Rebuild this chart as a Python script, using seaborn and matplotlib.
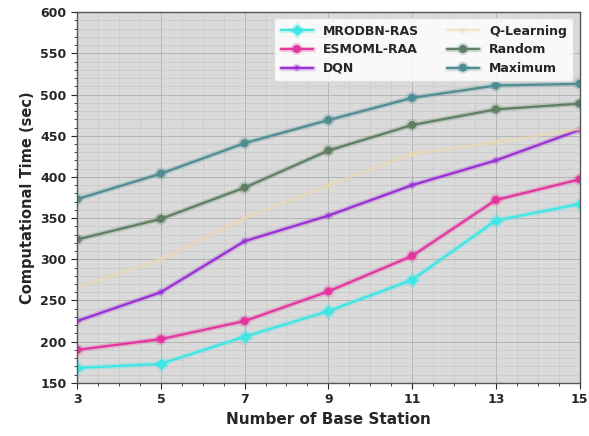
import numpy as np
import pandas as pd
import matplotlib
matplotlib.use("Agg")
import matplotlib.pyplot as plt
import matplotlib.patheffects as pe
from matplotlib.ticker import AutoMinorLocator
import seaborn as sns

base_stations = [3, 5, 7, 9, 11, 13, 15]
mrodbn_ras = [168, 173, 206, 237, 275, 347, 367]
esmoml_raa = [190, 203, 225, 261, 304, 372, 397]
dqn = [225, 260, 322, 353, 390, 420, 457]
q_learning = [265, 300, 350, 390, 428, 442, 458]
random_alloc = [324, 349, 387, 432, 463, 482, 489]
maximum = [373, 404, 441, 469, 496, 511, 513]

methods = ["MRODBN-RAS", "ESMOML-RAA", "DQN", "Q-Learning", "Random", "Maximum"]
series = [mrodbn_ras, esmoml_raa, dqn, q_learning, random_alloc, maximum]
colors = ["#3ee6e6", "#e3359f", "#9b2fd6", "#f2d9a6", "#5e7f62", "#4f8d92"]
markers = ["D", "o", ".", "+", "o", "o"]
alphas = [1.0, 1.0, 1.0, 0.5, 1.0, 1.0]

df = pd.DataFrame({
    "Number of Base Station": base_stations * len(methods),
    "Computational Time (sec)": sum(series, []),
    "Method": np.repeat(methods, len(base_stations)),
})

sns.set_style("whitegrid")
plt.rcParams["font.family"] = ["DejaVu Sans"]
plt.rcParams["font.weight"] = "bold"

fig, ax = plt.subplots(figsize=(5.89, 4.36), dpi=100)
ax.set_facecolor("#dadada")

for name, col, mk, a in zip(methods, colors, markers, alphas):
    sub = df[df["Method"] == name]
    sns.lineplot(data=sub, x="Number of Base Station", y="Computational Time (sec)",
                 color=col, marker=mk, markersize=5 if mk != "." else 4,
                 markeredgecolor=col, linewidth=1.6, alpha=a, label=name, ax=ax,
                 path_effects=[pe.Stroke(linewidth=3.8, foreground=col, alpha=0.25 * a), pe.Normal()])

ax.set_xlim(3, 15)
ax.set_ylim(150, 600)
ax.set_xticks(base_stations)
ax.set_yticks(np.arange(150, 601, 50))
ax.xaxis.set_minor_locator(AutoMinorLocator(4))
ax.yaxis.set_minor_locator(AutoMinorLocator(5))
ax.grid(which="major", color="#b4b4b4", linewidth=0.7)
ax.grid(which="minor", color="#c8c8c8", linewidth=0.5)
ax.tick_params(which="both", direction="out", left=True, bottom=True, labelsize=9)
ax.tick_params(which="major", length=4)
ax.tick_params(which="minor", length=2)
for lbl in ax.get_xticklabels() + ax.get_yticklabels():
    lbl.set_fontweight("bold")
for s in ax.spines.values():
    s.set_color("#555555")
    s.set_linewidth(1.0)

ax.set_xlabel("Number of Base Station", fontsize=11, fontweight="bold")
ax.set_ylabel("Computational Time (sec)", fontsize=10.5, fontweight="bold")

leg = ax.legend(loc="upper right", ncol=2, frameon=True,
                prop={"weight": "bold", "size": 9}, columnspacing=2.2,
                handlelength=2.6, borderpad=0.5, labelspacing=0.45)
leg.get_frame().set_facecolor("white")
leg.get_frame().set_alpha(0.85)
leg.get_frame().set_edgecolor("#dddddd")

fig.subplots_adjust(left=0.131, right=0.984, top=0.972, bottom=0.122)
fig.savefig("out.png", dpi=100)
